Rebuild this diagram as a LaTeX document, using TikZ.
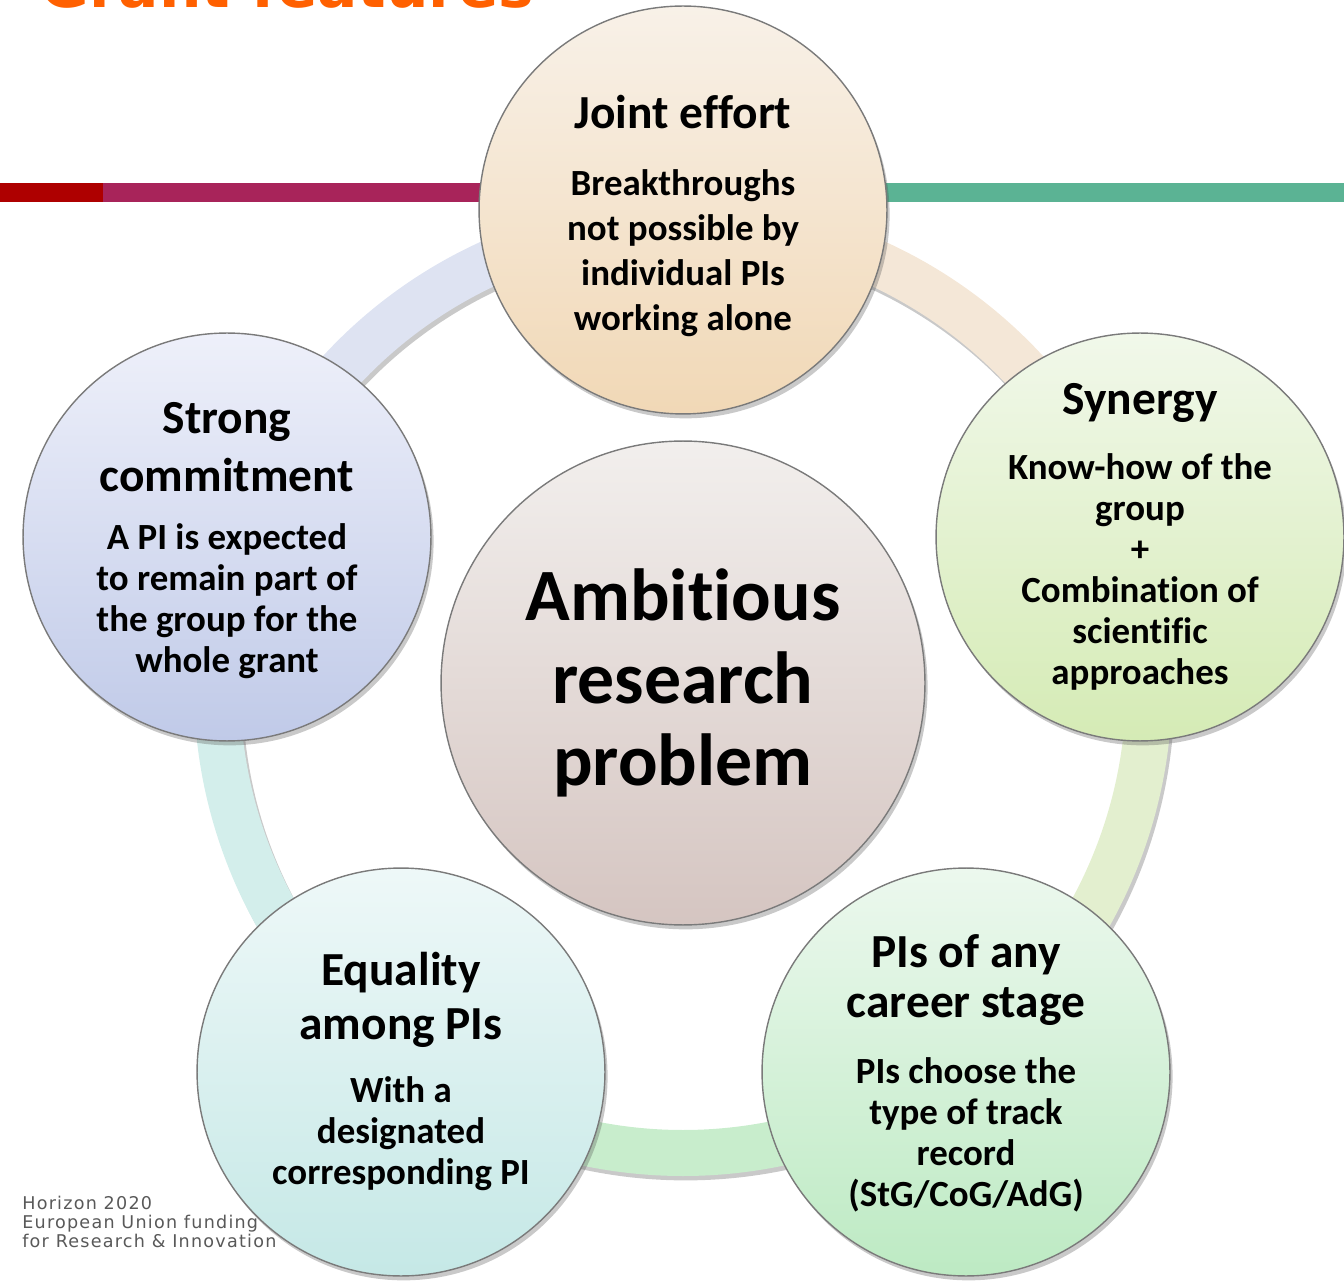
\documentclass[tikz,border=0pt]{standalone}
\usepackage{fontspec}
\setmainfont{Carlito}[RawFeature={-liga;-clig;-dlig}]
\newfontfamily\footerfont{DejaVu Sans}
\newfontfamily\footerspaced{DejaVu Sans}[LetterSpace=7]
\usetikzlibrary{shadows,calc}

\definecolor{titleorange}{HTML}{FF6000}
\definecolor{barred}{HTML}{AE0000}
\definecolor{barmagenta}{HTML}{A8245A}
\definecolor{bargreen}{HTML}{5BB394}
\definecolor{circleline}{HTML}{7A7A7A}
\definecolor{footergray}{HTML}{595959}
% ring segments
\definecolor{ringbeige}{HTML}{F4E7D7}
\definecolor{ringlime}{HTML}{E3EFCF}
\definecolor{ringgreen}{HTML}{C8EDCC}
\definecolor{ringcyan}{HTML}{D3EEEB}
\definecolor{ringlav}{HTML}{DEE3F2}
% circle fills
\definecolor{jointtop}{HTML}{F8F1E8}
\definecolor{jointbot}{HTML}{F1D8B6}
\definecolor{synergytop}{HTML}{F1F8EA}
\definecolor{synergybot}{HTML}{D5EBB5}
\definecolor{commitmenttop}{HTML}{EEF0FA}
\definecolor{commitmentbot}{HTML}{C0CAE8}
\definecolor{equalitytop}{HTML}{EEF8F8}
\definecolor{equalitybot}{HTML}{C5E8E6}
\definecolor{careertop}{HTML}{ECF8EE}
\definecolor{careerbot}{HTML}{BDEAC3}
\definecolor{problemtop}{HTML}{F2EFED}
\definecolor{problembot}{HTML}{D5C5C1}

\tikzset{
  softshadow/.style={drop shadow={shadow xshift=1.5pt, shadow yshift=-2.5pt, opacity=0.3, fill=black!70}},
  headline/.style={font=\fontsize{27}{31}\selectfont\bfseries, align=center},
  bodytext/.style={font=\fontsize{21}{23.3}\selectfont\bfseries, align=center},
}

\begin{document}
\begin{tikzpicture}[x=0.02cm,y=0.02cm]
  \useasboundingbox (0,0) rectangle (1344,1282);

  \begin{scope}
    \clip (0,0) rectangle (1344,1282);
    \node[anchor=base west, inner sep=0pt, text=titleorange,
          font=\footerfont\fontsize{34}{40}\selectfont\bfseries] (title) at (40,1274) {Grant features};
  \end{scope}

  % coloured bars
  \fill[barred]     (0,1080)   rectangle (103,1099);
  \fill[barmagenta] (103,1080) rectangle (683,1099);
  \fill[bargreen]   (683,1080) rectangle (1344,1099);

  % ring behind the circles
  \coordinate (hub) at (683,595);
  \foreach \a/\b/\c in {18/90/ringbeige, -54/18/ringlime, -126/-54/ringgreen,
                        -198/-126/ringcyan, 90/162/ringlav}
    \fill[\c, softshadow] ($(hub)+(\a:489)$) arc[start angle=\a, end angle=\b, radius=489]
      -- ($(hub)+(\b:443)$) arc[start angle=\b, end angle=\a, radius=443] -- cycle;

  \begin{scope}[every node/.style={circle, draw=circleline, line width=0.8pt,
                                    minimum size=8.16cm, inner sep=0pt, softshadow}]
    \node[top color=jointtop, bottom color=jointbot]           (joint)      at (683,1072) {};
    \node[top color=synergytop, bottom color=synergybot]       (synergy)    at (1140,745) {};
    \node[top color=commitmenttop, bottom color=commitmentbot] (commitment) at (227,745)  {};
    \node[top color=equalitytop, bottom color=equalitybot]     (equality)   at (401,210)  {};
    \node[top color=careertop, bottom color=careerbot]         (career)     at (966,210)  {};
    \node[top color=problemtop, bottom color=problembot, minimum size=9.68cm] (problem) at (683,599) {};
  \end{scope}

  % texts
  \node[headline] (jointhead) at (683,1170) {Joint effort};
  \node[bodytext, font=\fontsize{21}{25.5}\selectfont\bfseries] (jointbody) at (683,1029)
    {Breakthroughs\\not possible by\\individual PIs\\working alone};

  \node[headline] (synergyhead) at (1140,879) {Synergy};
  \node[bodytext] (synergybody) at (1140,710)
    {Know-how of the\\group\\+\\Combination of\\scientific\\approaches};

  \node[headline, font=\fontsize{27}{33}\selectfont\bfseries] (commitmenthead) at (227,835)
    {Strong\\commitment};
  \node[bodytext] (commitmentbody) at (227,681)
    {A PI is expected\\to remain part of\\the group for the\\whole grant};

  \node[headline, font=\fontsize{27}{30.6}\selectfont\bfseries] (equalityhead) at (401,282)
    {Equality\\among PIs};
  \node[bodytext] (equalitybody) at (401,148)
    {With a\\designated\\corresponding PI};

  \node[headline, font=\fontsize{27}{28.6}\selectfont\bfseries] (careerhead) at (966,302)
    {PIs of any\\career stage};
  \node[bodytext] (careerbody) at (966,147)
    {PIs choose the\\type of track\\record\\(StG/CoG/AdG)};

  \node[font=\fontsize{42}{47}\selectfont\bfseries, align=center] (problemtext) at (683,599)
    {Ambitious\\research\\problem};

  % footer
  \node[anchor=west, align=left, inner sep=0pt, text=footergray,
        font=\footerspaced\fontsize{10}{11}\selectfont] (footer) at (22,60)
    {Horizon 2020\\European Union funding\\for Research \& Innovation};
\end{tikzpicture}
\end{document}
